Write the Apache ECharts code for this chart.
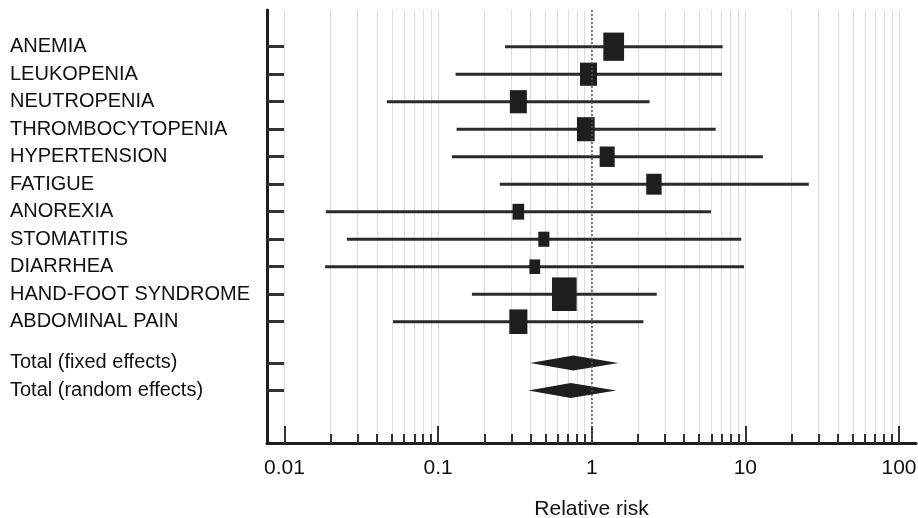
<!DOCTYPE html>
<html><head><meta charset="utf-8">
<script src="https://cdn.jsdelivr.net/npm/echarts@6/dist/echarts.min.js"></script>
<style>html,body{margin:0;padding:0;background:#fff}#c{width:918px;height:518px}</style>
</head><body><div id="c"></div>
<script>
const studies = ['ANEMIA','LEUKOPENIA','NEUTROPENIA','THROMBOCYTOPENIA','HYPERTENSION','FATIGUE','ANOREXIA','STOMATITIS','DIARRHEA','HAND-FOOT SYNDROME','ABDOMINAL PAIN'];
const estimate = [1.39, 0.953, 0.333, 0.915, 1.26, 2.54, 0.333, 0.488, 0.426, 0.663, 0.333];
const lower    = [0.273, 0.130, 0.0464, 0.132, 0.123, 0.252, 0.0186, 0.0255, 0.0184, 0.166, 0.0509];
const upper    = [7.11, 7.04, 2.38, 6.41, 13.0, 25.9, 5.97, 9.4, 9.8, 2.65, 2.17];
const weight   = [11.6, 9.5, 9.5, 9.9, 8.4, 8.6, 6.5, 6.2, 6.0, 13.8, 10.1];

const totals        = ['Total (fixed effects)', 'Total (random effects)'];
const totalEstimate = [0.759, 0.73];
const totalLower    = [0.397, 0.387];
const totalUpper    = [1.49, 1.44];

const majorTicks      = [0.01, 0.1, 1, 10, 100];
const majorTickLabels = ['0.01', '0.1', '1', '10', '100'];
const minorTicks = [0.02,0.03,0.04,0.05,0.06,0.07,0.08,0.09,
                    0.2,0.3,0.4,0.5,0.6,0.7,0.8,0.9,
                    2,3,4,5,6,7,8,9,
                    20,30,40,50,60,70,80,90];
const axisMin = 0.0077, axisMax = 129;
const xName = 'Relative risk';

const L = Math.log10;
const rowPos = studies.map((_, i) => i);
const totalPos = totals.map((_, j) => studies.length + 0.5 + j);
const allPos = rowPos.concat(totalPos);
const allNames = studies.concat(totals);

const studyData = studies.map((_, i) => [L(lower[i]), L(upper[i]), L(estimate[i]), rowPos[i], weight[i]]);
const totalData = totals.map((_, j) => [L(totalLower[j]), L(totalUpper[j]), L(totalEstimate[j]), totalPos[j]]);

const ink = '#1e1e1e';
const textColor = '#111111';
const narrowFont = "'Liberation Sans Narrow', 'Liberation Sans', Arial, sans-serif";

function renderStudy(params, api) {
  const lo = api.value(0), hi = api.value(1), est = api.value(2), y = api.value(3), w = api.value(4);
  const p1 = api.coord([lo, y]), p2 = api.coord([hi, y]), pc = api.coord([est, y]);
  const bw = w * 1.79, bh = bw * 1.36;
  return { type: 'group', children: [
    { type: 'line', shape: { x1: p1[0], y1: p1[1], x2: p2[0], y2: p2[1] }, style: { stroke: '#2a2a2a', lineWidth: 3 } },
    { type: 'rect', shape: { x: pc[0] - bw / 2, y: pc[1] - bh / 2, width: bw, height: bh }, style: { fill: ink } }
  ]};
}
function renderTotal(params, api) {
  const lo = api.value(0), hi = api.value(1), est = api.value(2), y = api.value(3);
  const p1 = api.coord([lo, y]), p2 = api.coord([hi, y]), pc = api.coord([est, y]);
  const h = 7.5;
  return { type: 'polygon', shape: { points: [[p1[0], p1[1]], [pc[0], pc[1] - h], [p2[0], p2[1]], [pc[0], pc[1] + h]] }, style: { fill: ink } };
}

const chart = echarts.init(document.getElementById('c'), null, { renderer: 'canvas' });
chart.setOption({
  animation: false,
  backgroundColor: '#ffffff',
  grid: { left: 267, right: 2, top: 10, bottom: 75, containLabel: false, outerBoundsMode: 'none' },
  xAxis: [
    {
      type: 'value', min: L(axisMin), max: L(axisMax),
      name: xName, nameLocation: 'middle', nameGap: 56,
      nameTextStyle: { fontFamily: narrowFont, fontSize: 21, color: textColor },
      axisLine: { show: true, onZero: false, lineStyle: { color: ink, width: 3 } },
      axisTick: { show: true, inside: true, length: 17, customValues: majorTicks.map(L), lineStyle: { color: '#333', width: 2 } },
      axisLabel: { show: true, margin: 15, customValues: majorTicks.map(L),
        formatter: v => { const k = majorTicks.findIndex(t => Math.abs(L(t) - v) < 1e-6); return k >= 0 ? majorTickLabels[k] : ''; },
        fontFamily: narrowFont, fontSize: 21, color: textColor },
      splitLine: { show: true, lineStyle: { color: '#dcdcdc', width: 1 } }
    },
    {
      type: 'value', min: L(axisMin), max: L(axisMax), position: 'bottom',
      axisLine: { show: false, onZero: false },
      axisTick: { show: true, inside: true, length: 9, customValues: minorTicks.map(L), lineStyle: { color: '#333', width: 2 } },
      axisLabel: { show: false },
      splitLine: { show: true, lineStyle: { color: '#dcdcdc', width: 1 } }
    }
  ],
  yAxis: {
    type: 'value', inverse: true, min: -1.335, max: 14.41,
    axisLine: { show: true, onZero: false, lineStyle: { color: ink, width: 3 } },
    axisTick: { show: true, inside: true, length: 17, customValues: allPos, lineStyle: { color: '#333', width: 3 } },
    axisLabel: { show: true, customValues: allPos, align: 'left', margin: 257,
      formatter: v => { const k = allPos.findIndex(p => Math.abs(p - v) < 1e-6); return k >= 0 ? allNames[k] : ''; },
      fontFamily: "'Liberation Sans', Arial, sans-serif", fontSize: 20, color: textColor },
    splitLine: { show: false }
  },
  series: [
    {
      type: 'custom', name: 'studies', xAxisIndex: 0, renderItem: renderStudy,
      encode: { x: [0, 1, 2], y: 3 }, data: studyData, silent: true,
      markLine: { silent: true, symbol: ['none', 'none'], label: { show: false },
        lineStyle: { type: [2, 2], color: '#555', width: 1.5 },
        data: [{ xAxis: L(1) }] }
    },
    {
      type: 'custom', name: 'totals', xAxisIndex: 0, renderItem: renderTotal,
      encode: { x: [0, 1, 2], y: 3 }, data: totalData, silent: true
    }
  ]
});
</script></body></html>
